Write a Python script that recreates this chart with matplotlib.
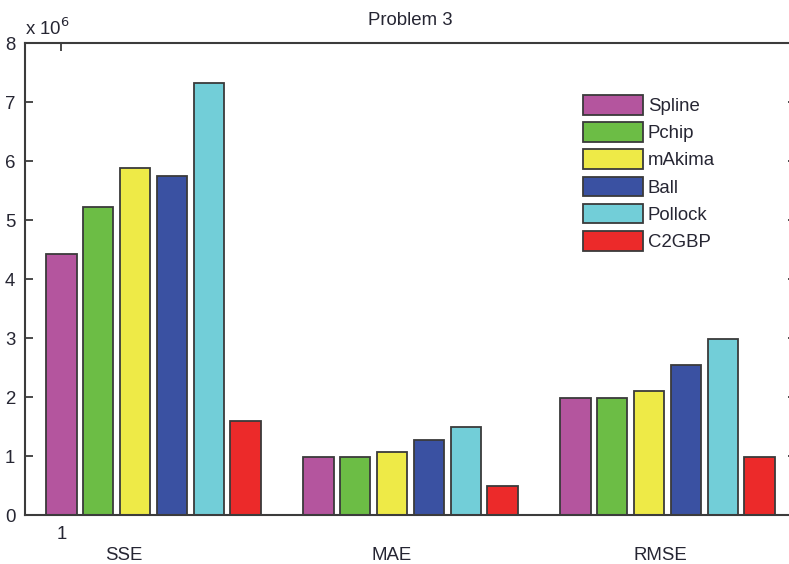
import matplotlib
matplotlib.use("Agg")
import matplotlib.pyplot as plt
from matplotlib.ticker import FuncFormatter
import numpy as np

plt.rcParams['font.family'] = ['Liberation Sans', 'DejaVu Sans']

# Error metrics for each interpolation method (values in raw units)
metrics = ["SSE", "MAE", "RMSE"]
methods = ["Spline", "Pchip", "mAkima", "Ball", "Pollock", "C2GBP"]
spline = [4.42e6, 0.99e6, 1.98e6]
pchip = [5.22e6, 0.99e6, 1.98e6]
makima = [5.89e6, 1.07e6, 2.11e6]
ball = [5.75e6, 1.27e6, 2.54e6]
pollock = [7.32e6, 1.49e6, 2.98e6]
c2gbp = [1.59e6, 0.49e6, 0.99e6]
colors = ["#B4559E", "#6CBD45", "#EEEA47", "#3A51A2", "#72CED8", "#EC2A2A"]

series = [spline, pchip, makima, ball, pollock, c2gbp]

W, H = 789, 564
fig = plt.figure(figsize=(W / 100, H / 100), dpi=100)
ax_w = 771
ax_h = 471.7
ax = fig.add_axes([25 / W, (H - 515) / H, ax_w / W, ax_h / H])

text_color = "#262633"
axis_color = "#3c3c3c"
fs = 13.4

groups = np.arange(1, len(metrics) + 1)
step = 0.1432
width = 0.117
n = len(series)
for i, (vals, c, name) in enumerate(zip(series, colors, methods)):
    offs = (i - (n - 1) / 2) * step
    ax.bar(groups + offs, vals, width=width, color=c, edgecolor="#3a3a3a",
           linewidth=1.3, label=name, zorder=2)

ax.set_xlim(0.5, 3.5)
ax.set_ylim(0, 8e6)
ax.set_yticks(np.arange(0, 9) * 1e6)
ax.yaxis.set_major_formatter(FuncFormatter(lambda v, p: f"{v / 1e6:g}"))

first_bar = 1 - (n - 1) / 2 * step
ax.set_xticks([first_bar])
ax.set_xticklabels(["1"])

for s in ax.spines.values():
    s.set_color(axis_color)
    s.set_linewidth(1.5)

ax.tick_params(axis="both", direction="in", length=6, width=1.3,
               color=axis_color, labelsize=fs, labelcolor=text_color,
               top=True, right=True)
ax.tick_params(axis="y", pad=7)
ax.tick_params(axis="x", pad=8)

# group labels under the axis
for xg, lab in zip([0.885, 1.928, 2.971], metrics):
    ax.text(xg, -0.085, lab, transform=ax.get_xaxis_transform(),
            ha="center", va="center", fontsize=fs, color=text_color)

ax.text(0.0, 1.009, r"x 10$^{6}$", transform=ax.transAxes, ha="left",
        va="bottom", fontsize=fs, color=text_color)
ax.set_title("Problem 3", fontsize=fs, color=text_color, pad=13)

leg = ax.legend(loc="upper left",
                bbox_to_anchor=((583 - 25) / ax_w, (515 - 95) / ax_h),
                frameon=False, fontsize=fs, handlelength=3.2, handleheight=1.25,
                handletextpad=0.28, labelspacing=0.38, borderpad=0, borderaxespad=0)
for t in leg.get_texts():
    t.set_color(text_color)
for p in leg.get_patches():
    p.set_edgecolor("#3a3a3a")
    p.set_linewidth(1.3)

fig.savefig("out.png", dpi=100)
